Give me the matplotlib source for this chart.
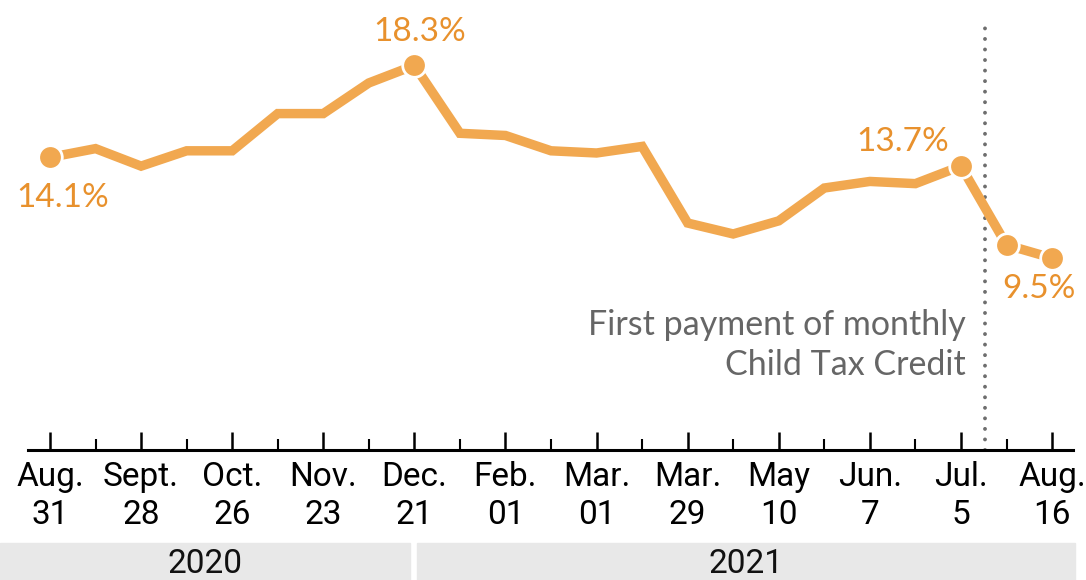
import matplotlib
matplotlib.use('Agg')
import matplotlib.pyplot as plt
from matplotlib.patches import Rectangle

# share of households reporting food insufficiency, survey waves
values = [14.1, 14.5, 13.7, 14.4, 14.4, 16.1, 16.1, 17.5, 18.3, 15.2, 15.1,
          14.4, 14.3, 14.6, 11.1, 10.6, 11.2, 12.7, 13.0, 12.9, 13.7, 10.1, 9.5]
tick_labels = ['Aug.\n31', 'Sept.\n28', 'Oct.\n26', 'Nov.\n23', 'Dec.\n21', 'Feb.\n01',
               'Mar.\n01', 'Mar.\n29', 'May\n10', 'Jun.\n7', 'Jul.\n5', 'Aug.\n16']
marked = [0, 8, 20, 21, 22]
labelled = {0: '14.1%', 8: '18.3%', 20: '13.7%', 22: '9.5%'}
ctc_x = 20.53  # first monthly Child Tax Credit payment
years = ['2020', '2021']

LINE = '#F1A850'
TXT_ORANGE = '#E8912D'
GREY_TXT = '#666666'
NARROW = ['Liberation Sans Narrow', 'Roboto', 'DejaVu Sans']
SANS = ['Lato', 'Open Sans', 'DejaVu Sans']

fig = plt.figure(figsize=(10.86, 5.8), dpi=100)
ax = fig.add_axes([28 / 1086, 130 / 580, 1045 / 1086, 450 / 580])

x = list(range(len(values)))
ax.plot(x, values, color=LINE, lw=6.8, solid_joinstyle='miter', zorder=3)
ax.plot([x[i] for i in marked], [values[i] for i in marked], 'o', ms=17,
        color=LINE, mec='white', mew=2, zorder=4)

ax.set_xlim(-0.483, 22.46)
ax.set_ylim(0.73, 21.29)

# dotted marker line
ax.plot([ctc_x, ctc_x], [0.73, 20.3], color='#6E6E6E', lw=2.8,
        linestyle=(0, (0.01, 2.7)), dash_capstyle='round', zorder=2)

# value labels
offsets = {0: (13, -50, 'center'), 8: (5, 24, 'center'),
           20: (-12, 15, 'right'), 22: (-13, -40, 'center')}
for i, txt in labelled.items():
    dx, dy, ha = offsets[i]
    ax.annotate(txt, (x[i], values[i]), xytext=(dx, dy), textcoords='offset pixels',
                ha=ha, va='baseline', color=TXT_ORANGE, fontsize=24, family=SANS)

ax.annotate('First payment of monthly\nChild Tax Credit', (ctc_x, 18.3 - (375 - 65.4) / 21.89),
            xytext=(-19, 0), textcoords='offset pixels', ha='right', va='baseline',
            color=GREY_TXT, fontsize=24.5, family=SANS, linespacing=1.3, multialignment='right')

# axes styling
for s in ['top', 'left', 'right']:
    ax.spines[s].set_visible(False)
ax.spines['bottom'].set_linewidth(2.2)
ax.set_yticks([])
ax.set_xticks(x[::2])
ax.set_xticklabels(tick_labels, fontsize=24, family=NARROW, linespacing=1.25)
ax.set_xticks(x[1::2], minor=True)
ax.tick_params(axis='x', which='major', direction='in', length=13, width=1.8, pad=8)
ax.tick_params(axis='x', which='minor', direction='in', length=8, width=1.5)

# year bands
band_specs = [(0, 410), (417, 1075)]
for (x0, x1), yr in zip(band_specs, years):
    fig.patches.append(Rectangle((x0 / 1086, 0), (x1 - x0) / 1086, 37 / 580,
                                 transform=fig.transFigure, color='#E8E8E8', zorder=0))
    fig.text((x0 + x1) / 2 / 1086, 16 / 580, yr, ha='center', va='center',
             fontsize=24, family=NARROW, color='#111111')

fig.savefig('out.png', dpi=100)
